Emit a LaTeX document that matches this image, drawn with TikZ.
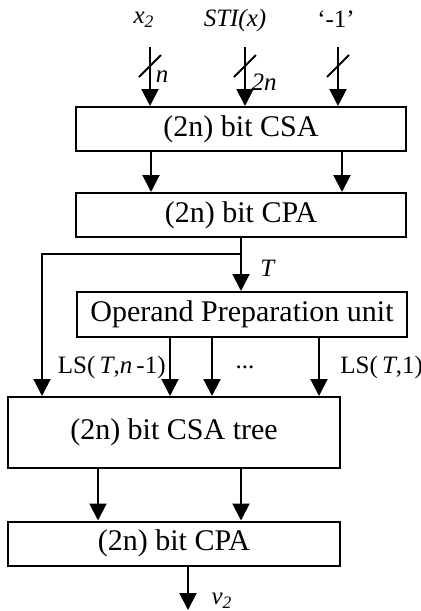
\documentclass[tikz,border=0pt]{standalone}
\usepackage{fontspec}
\setmainfont{Liberation Serif}
\usetikzlibrary{arrows.meta,calc}
\tikzset{
  box/.style={draw, line width=1pt, inner sep=0pt, font=\fontsize{15}{18}\selectfont},
  arr/.style={line width=1pt, -{Triangle[length=8.5pt,width=8.5pt]}},
  wire/.style={line width=1pt},
  lbl/.style={inner sep=0pt, font=\fontsize{12.5}{15}\selectfont},
}
\begin{document}
\begin{tikzpicture}[x=0.5pt,y=-0.5pt]
\useasboundingbox (0,0) rectangle (420,611);

% blocks
\node[box, minimum width=165pt, minimum height=22pt] (csa)  at (241,129)   {(2n) bit CSA};
\node[box, minimum width=165pt, minimum height=22pt] (cpa1) at (241,215)   {(2n) bit CPA};
\node[box, minimum width=165pt, minimum height=22.5pt] (opu) at (242,314.5) {Operand Preparation unit};
\node[box, minimum width=166pt, minimum height=35.5pt] (tree) at (174,432.5) {(2n) bit CSA tree};
\node[box, minimum width=166pt, minimum height=22pt] (cpa2) at (174,543.5) {(2n) bit CPA};

% inputs
\coordinate (in1) at (150,47);
\coordinate (in2) at (245,47);
\coordinate (in3) at (338,47);
\node[lbl] (lx)   at (144,20) {\textit{x\textsubscript{2}}};
\node[lbl] (lsti) at (235,20) {\textit{STI(x)}};
\node[lbl] (lone) at (336,19) {‘-1’};
\foreach \i in {in1,in2,in3}{
  \draw[arr] (\i) -- (\i |- csa.north);
  \draw[wire] ($(\i)+(-11,30)$) -- ($(\i)+(11,8)$);
}
\node[lbl] (ln)  at (162,77) {\textit{n}};
\node[lbl] (l2n) at (264,82) {\textit{2n}};

% CSA -> CPA
\coordinate (c1) at (151,0);
\coordinate (c2) at (342,0);
\draw[arr] (c1 |- csa.south) -- (c1 |- cpa1.north);
\draw[arr] (c2 |- csa.south) -- (c2 |- cpa1.north);

% T bus
\coordinate (tx) at (241,254);
\coordinate (tl) at (42,254);
\draw[wire] (cpa1.south -| tx) -- (tx);
\draw[arr] (tx) -- (tx |- opu.north);
\draw[arr] (tx) -- (tl) -- (tl |- tree.north);
\node[lbl] (lt) at (268,268) {\textit{T}};

% shifted operands
\coordinate (s1) at (170,0);
\coordinate (s2) at (212,0);
\coordinate (s3) at (319,0);
\foreach \s in {s1,s2,s3}{
  \draw[arr] (\s |- opu.south) -- (\s |- tree.north);
}
\node[lbl, anchor=base east] (ls1) at (166,373) {LS(\,\textit{T},\textit{n}\,-1)};
\node[lbl, anchor=base] (ldots) at (245,368) {...};
\node[lbl, anchor=base west] (ls2) at (340,373) {LS(\,\textit{T},1)};

% tree -> CPA
\coordinate (d1) at (98,0);
\coordinate (d2) at (241,0);
\draw[arr] (d1 |- tree.south) -- (d1 |- cpa2.north);
\draw[arr] (d2 |- tree.south) -- (d2 |- cpa2.north);

% output
\coordinate (out) at (188,610);
\draw[arr] (out |- cpa2.south) -- (out);
\node[lbl] (lv) at (222,601) {\textit{v\textsubscript{2}}};
\end{tikzpicture}
\end{document}
